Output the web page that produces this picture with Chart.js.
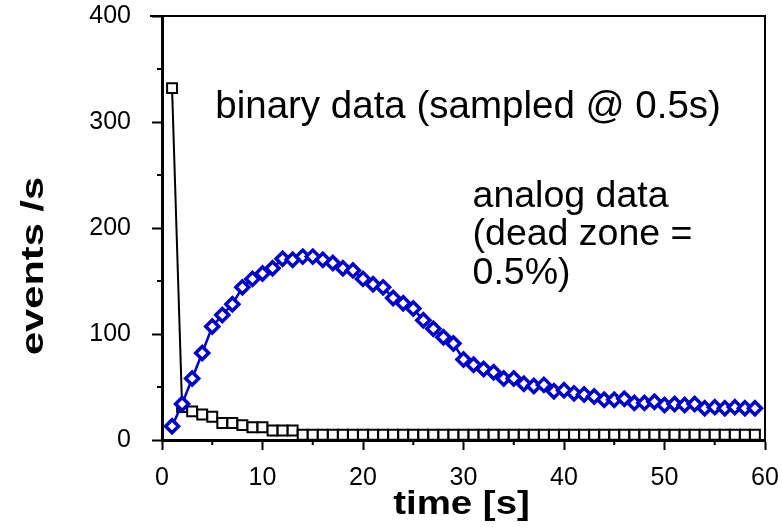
<!DOCTYPE html>
<html>
<head>
<meta charset="utf-8">
<script src="https://cdn.jsdelivr.net/npm/chart.js@4/dist/chart.umd.min.js"></script>
<style>
html,body{margin:0;padding:0;background:#fff;}
#wrap{width:782px;height:527px;position:relative;}
</style>
</head>
<body>
<div id="wrap"><canvas id="c"></canvas></div>
<script>
// ---- data ----
const analogTime = [1,2,3,4,5,6,7,8,9,10,11,12,13,14,15,16,17,18,19,20,21,22,23,24,25,26,27,28,29,30,
  31,32,33,34,35,36,37,38,39,40,41,42,43,44,45,46,47,48,49,50,51,52,53,54,55,56,57,58,59];
const analogEvents = [13,34,58,82,107,118,128,144,152,157,162,171,170,173,173,170,167,162,160,152,
  147,144,134,129,124,113,105,97,91,76,71,67,64,58,58,53,51,52,46,47,
  44,43,41,38,38,39,35,35,36,33,34,33,34,30,31,30,31,30,30];
const binaryTime = [1,2,3,4,5,6,7,8,9,10,11,12,13,14,15,16,17,18,19,20,21,22,23,24,25,26,27,28,29,30,
  31,32,33,34,35,36,37,38,39,40,41,42,43,44,45,46,47,48,49,50,51,52,53,54,55,56,57,58,59];
const binaryEvents = [332,31,27,24,22,16,16,14,12,12,9,9,9,5,5,5,5,5,5,5,
  5,5,5,5,5,5,5,5,5,5,5,5,5,5,5,5,5,5,5,5,
  5,5,5,5,5,5,5,5,5,5,5,5,5,5,5,5,5,5,5];
const xTickValues = [0,10,20,30,40,50,60];
const xMinorTicks = [5,15,25,35,45,55];
const yTickValues = [0,100,200,300,400];
const yMinorTicks = [50,150,250,350];
const xTitle = 'time [s]';
const yTitle = 'events /s';
const binaryLabel = ['binary data (sampled @ 0.5s)'];
const analogLabel = ['analog data', '(dead zone =', '0.5%)'];

const FONT = '"Liberation Sans", Arial, Helvetica, sans-serif';
const BLUE = '#0000CC';

const toXY = (xs, ys) => xs.map((x, i) => ({x: x, y: ys[i]}));

const extras = {
  id: 'extras',
  afterDraw(chart) {
    const ctx = chart.ctx;
    const xs = chart.scales.x, ys = chart.scales.y;
    const a = chart.chartArea;
    ctx.save();
    ctx.strokeStyle = '#000';
    // frame top & right
    ctx.lineWidth = 2;
    ctx.beginPath();
    ctx.moveTo(a.left - 12, a.top);
    ctx.lineTo(a.right, a.top);
    ctx.lineTo(a.right, a.bottom);
    ctx.stroke();
    // minor ticks
    ctx.beginPath();
    xMinorTicks.forEach(v => {
      const px = xs.getPixelForValue(v);
      ctx.moveTo(px, a.bottom); ctx.lineTo(px, a.bottom + 5);
    });
    yMinorTicks.forEach(v => {
      const py = ys.getPixelForValue(v);
      ctx.moveTo(a.left, py); ctx.lineTo(a.left - 5, py);
    });
    ctx.stroke();
    // annotations
    ctx.fillStyle = '#000';
    ctx.textAlign = 'left';
    ctx.textBaseline = 'middle';
    ctx.font = '38.5px ' + FONT;
    binaryLabel.forEach((t, i) => {
      ctx.fillText(t, xs.getPixelForValue(5.3), ys.getPixelForValue(314) + i * 38);
    });
    ctx.font = '37.5px ' + FONT;
    analogLabel.forEach((t, i) => {
      ctx.fillText(t, xs.getPixelForValue(30.9), ys.getPixelForValue(230) + i * 38.5);
    });
    // axis titles (text in the reference is drawn wide)
    ctx.textAlign = 'center';
    ctx.font = 'bold 32px ' + FONT;
    ctx.save();
    ctx.translate(34, 266);
    ctx.rotate(-Math.PI / 2);
    ctx.scale(1.3, 1);
    ctx.fillText(yTitle, 0, 0);
    ctx.restore();
    ctx.font = 'bold 34px ' + FONT;
    ctx.save();
    ctx.translate((a.left + a.right) / 2 - 2, 505);
    ctx.scale(1.13, 1);
    ctx.fillText(xTitle, 0, 0);
    ctx.restore();
    ctx.restore();
  }
};

new Chart(document.getElementById('c'), {
  type: 'line',
  data: {
    datasets: [
      {
        label: 'analog data',
        data: toXY(analogTime, analogEvents),
        borderColor: BLUE,
        borderWidth: 2.5,
        backgroundColor: '#fff',
        pointStyle: 'rectRot',
        pointRadius: 6.5,
        pointBorderWidth: 3.5,
        pointBorderColor: BLUE,
        pointBackgroundColor: '#fff',
        tension: 0
      },
      {
        label: 'binary data',
        data: toXY(binaryTime, binaryEvents),
        borderColor: '#000',
        borderWidth: 2,
        backgroundColor: '#fff',
        pointStyle: 'rect',
        pointRadius: 7,
        pointBorderWidth: 2,
        pointBorderColor: '#000',
        pointBackgroundColor: '#fff',
        tension: 0
      }
    ]
  },
  options: {
    responsive: true,
    maintainAspectRatio: false,
    animation: false,
    layout: {padding: {top: 16, right: 17, left: 0, bottom: 0}},
    plugins: {legend: {display: false}, tooltip: {enabled: false}},
    scales: {
      x: {
        type: 'linear',
        min: 0, max: 60,
        afterBuildTicks: s => { s.ticks = xTickValues.map(v => ({value: v})); },
        afterFit: s => { s.height = 87; s.paddingLeft = 0; s.paddingRight = 0; },
        ticks: {color: '#000', font: {family: FONT, size: 25}, padding: 13, maxRotation: 0},
        grid: {drawOnChartArea: false, drawTicks: true, tickLength: 10, tickWidth: 2, tickColor: '#000'},
        border: {display: true, color: '#000', width: 3},
        title: {display: false}
      },
      y: {
        type: 'linear',
        min: 0, max: 400,
        afterBuildTicks: s => { s.ticks = yTickValues.map(v => ({value: v})); },
        afterFit: s => { s.width = 162; s.paddingTop = 0; s.paddingBottom = 0; },
        ticks: {color: '#000', font: {family: FONT, size: 25}, padding: 21},
        grid: {drawOnChartArea: false, drawTicks: true, tickLength: 10, tickWidth: 2, tickColor: '#000'},
        border: {display: true, color: '#000', width: 3},
        title: {display: false}
      }
    }
  },
  plugins: [extras]
});
</script>
</body>
</html>
